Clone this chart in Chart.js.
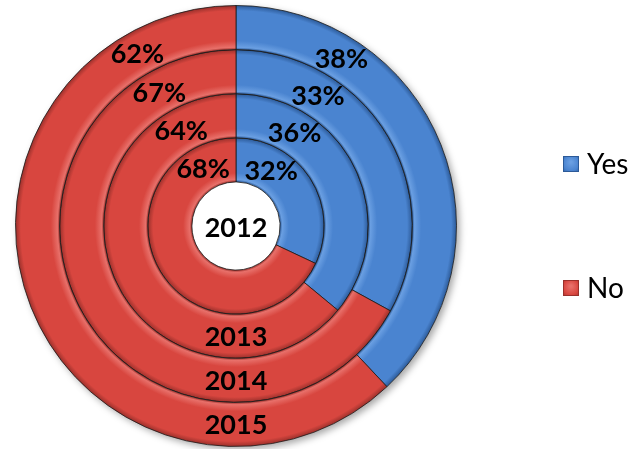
<!DOCTYPE html>
<html>
<head>
<meta charset="utf-8">
<title>Yes / No</title>
<script src="https://cdn.jsdelivr.net/npm/chart.js@4.4.0/dist/chart.umd.min.js"></script>
<style>
  html, body { margin: 0; padding: 0; background: #fff; }
  #wrap { width: 633px; height: 449px; }
</style>
</head>
<body>
<div id="wrap"><canvas id="ringChart" width="633" height="449"></canvas></div>
<script>
// one ring per year, innermost = 2012
const years = ['2012', '2013', '2014', '2015'];
const answers = ['Yes', 'No'];
const yesValues = [32, 36, 33, 38];
const noValues = [68, 64, 67, 62];

// bevel colours for each answer (dark edge / light rim / body)
const palette = [
    { dark: '#2c5a98', light: '#6a9fe2', mid: '#4a84d0' },
    { dark: '#9a302b', light: '#e8706a', mid: '#d8463f' }
];

// Chart.js draws dataset 0 as the outer ring, so the years go in reverse
const datasets = years.map((year, i) => ({
    label: year,
    data: [yesValues[i], noValues[i]],
    backgroundColor: ringFill,
    borderColor: 'rgba(25, 25, 25, 0.8)',
    borderWidth: 1
})).reverse();

function ringFill(context) {
    const chart = context.chart;
    const colors = palette[context.dataIndex] || palette[0];
    const area = chart.chartArea;
    const ctrl = chart.getDatasetMeta(context.datasetIndex).controller;
    if (!area || !ctrl || !isFinite(ctrl.innerRadius) || !(ctrl.outerRadius > ctrl.innerRadius)) {
        return colors.mid;
    }
    const cx = (area.left + area.right) / 2;
    const cy = (area.top + area.bottom) / 2;
    const g = chart.ctx.createRadialGradient(cx, cy, ctrl.innerRadius, cx, cy, ctrl.outerRadius);
    g.addColorStop(0, colors.dark);
    g.addColorStop(0.05, colors.light);
    g.addColorStop(0.2, colors.mid);
    g.addColorStop(0.88, colors.mid);
    g.addColorStop(1, colors.dark);
    return g;
}

// soft shadow under the whole disc
const shadowPlugin = {
    id: 'discShadow',
    beforeDatasetsDraw(chart) {
        const arc = chart.getDatasetMeta(0).data[0];
        if (!arc) return;
        const ctx = chart.ctx;
        ctx.save();
        ctx.shadowColor = 'rgba(0, 0, 0, 0.35)';
        ctx.shadowBlur = 7;
        ctx.shadowOffsetX = 3;
        ctx.shadowOffsetY = 3;
        ctx.fillStyle = '#fff';
        ctx.beginPath();
        ctx.arc(arc.x, arc.y, arc.outerRadius, 0, Math.PI * 2);
        ctx.fill();
        ctx.restore();
    }
};

// percentages near the top of each ring, year under each ring
const tiltYes = 0.56;
const tiltNo = 0.52;
const labelPlugin = {
    id: 'ringLabels',
    afterDatasetsDraw(chart) {
        const ctx = chart.ctx;
        ctx.save();
        ctx.fillStyle = '#000';
        ctx.font = 'bold 27px Lato';
        ctx.textAlign = 'center';
        ctx.textBaseline = 'middle';
        const last = chart.data.datasets.length - 1;
        chart.data.datasets.forEach((ds, i) => {
            const arcs = chart.getDatasetMeta(i).data;
            arcs.forEach((arc, j) => {
                const p = arc.getProps(['x', 'y', 'startAngle', 'endAngle', 'innerRadius', 'outerRadius'], true);
                const r = (p.innerRadius + p.outerRadius) / 2;
                const a = j === 0 ? p.startAngle + tiltYes : p.endAngle - tiltNo;
                ctx.fillText(ds.data[j] + '%', p.x + r * Math.cos(a), p.y + r * Math.sin(a) + 1);
            });
            const p = arcs[0].getProps(['x', 'y', 'innerRadius', 'outerRadius'], true);
            if (i === last) {
                ctx.fillText(ds.label, p.x, p.y + 2);
            } else {
                ctx.fillText(ds.label, p.x, p.y + (p.innerRadius + p.outerRadius) / 2 + 1);
            }
        });
        ctx.restore();
    }
};

// legend on the right with bevelled squares
const legendPlugin = {
    id: 'sideLegend',
    afterDraw(chart) {
        const ctx = chart.ctx;
        const x = 563, size = 16;
        const rows = [164, 288];
        ctx.save();
        chart.data.labels.forEach((label, i) => {
            const cy = rows[i];
            const c = palette[i];
            const g = ctx.createRadialGradient(x + size / 2, cy - 2, 1, x + size / 2, cy, size * 0.75);
            g.addColorStop(0, c.light);
            g.addColorStop(0.6, c.mid);
            g.addColorStop(1, c.dark);
            ctx.fillStyle = g;
            ctx.fillRect(x, cy - size / 2, size, size);
            ctx.strokeStyle = c.dark;
            ctx.lineWidth = 1;
            ctx.strokeRect(x + 0.5, cy - size / 2 + 0.5, size - 1, size - 1);
            ctx.fillStyle = '#000';
            ctx.font = '28px Lato';
            ctx.textAlign = 'left';
            ctx.textBaseline = 'middle';
            ctx.fillText(label, x + 24, cy + 1);
        });
        ctx.restore();
    }
};

const ctx = document.getElementById('ringChart').getContext('2d');
const ringChart = new Chart(ctx, {
    type: 'doughnut',
    data: { labels: answers, datasets: datasets },
    options: {
        responsive: false,
        animation: false,
        devicePixelRatio: 1,
        cutout: '20%',
        events: [],
        layout: { padding: { left: 0, right: 161, top: 5, bottom: 2 } },
        plugins: {
            legend: { display: false },
            tooltip: { enabled: false }
        }
    },
    plugins: [shadowPlugin, labelPlugin, legendPlugin]
});
</script>
</body>
</html>
